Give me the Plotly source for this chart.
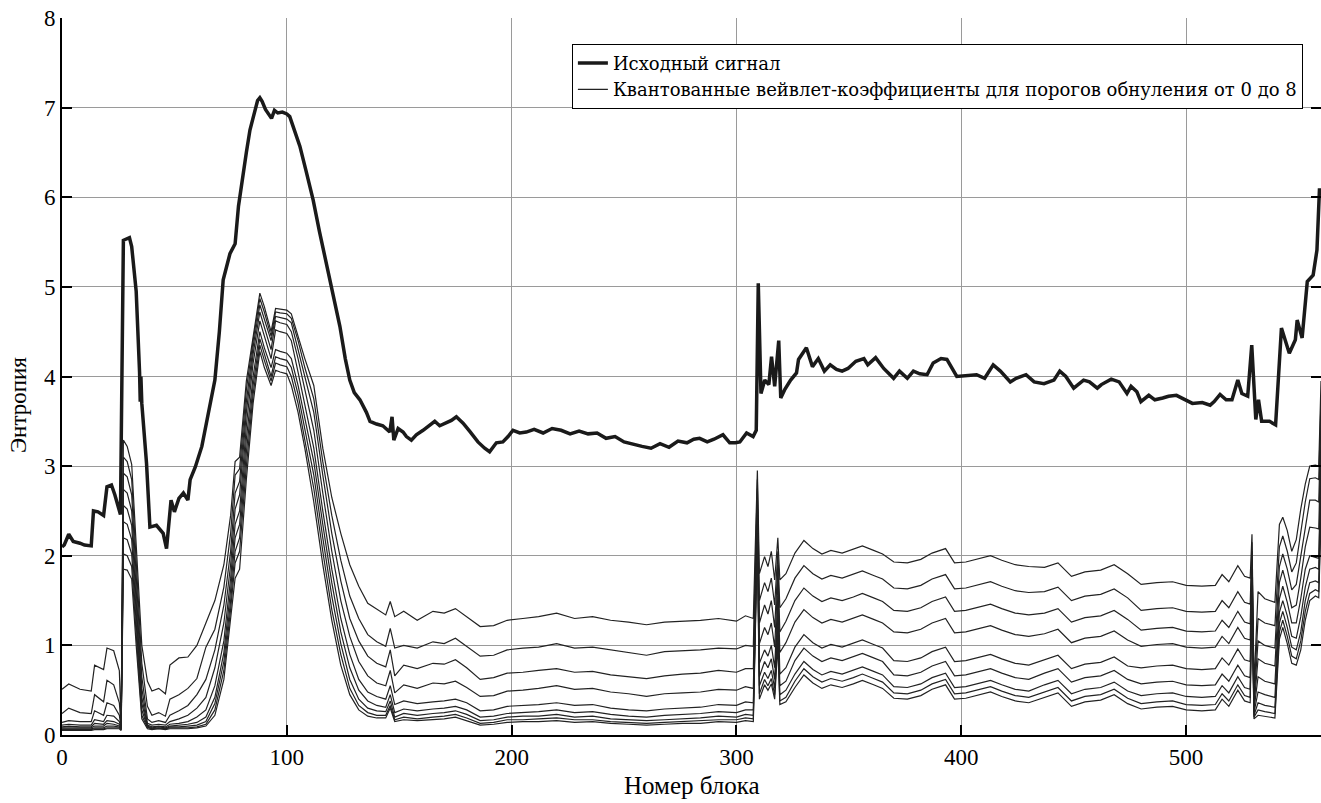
import plotly.graph_objects as go

# ---------------- data ----------------
# Thick line: entropy of the source signal
signal_x = [0, 1, 3, 5, 8, 10, 13, 14, 16, 18.5, 20, 22, 23.5, 26, 27.3, 30, 31, 33, 34.5, 34.8, 35.1, 35.5,
            37.6, 39.1, 42, 43.5, 45, 46.5, 48.5, 50, 52, 54, 56, 57, 59.3, 62.2, 65.2, 68, 70, 71.7, 74.7,
            76.1, 77, 78.5, 80, 82, 83.6, 85.5, 87, 88, 89, 90.5, 92, 93.2, 94.5, 96, 98, 100, 101.3, 103,
            105.8, 108.5, 111.7, 114.5, 117.6, 120.5, 123.6, 126, 128, 130, 132.5, 135.4, 137, 139.9, 142.7,
            145.8, 146.8, 147.6, 149.5, 151.7, 153.2, 155.4, 157.6, 160.6, 162.8, 165.8, 168, 171, 173.2,
            175.4, 178.4, 181.3, 185, 188, 190.2, 193.2, 196.1, 198.4, 200.6, 203.6, 206.5, 210, 214, 218,
            222, 226, 230, 234, 238, 242, 246, 250, 254, 258, 262, 266, 270, 274, 278, 281, 283.6, 287, 290,
            294, 297, 299.5, 301.5, 304.5, 307.4, 308.8, 309.7, 310.9, 312.6, 314.4, 315.6, 317, 318.8,
            319.7, 321.4, 324.1, 326.7, 327.6, 331.1, 333.8, 336.4, 339.1, 341.7, 344.5, 347, 349.6, 353.1,
            356.7, 358.4, 361.9, 365.5, 369.9, 372.5, 376, 378.7, 381.5, 384.8, 387.5, 391, 393.6, 398,
            403.3, 406.8, 410.4, 414.2, 417.4, 421.8, 424.4, 428.8, 432.4, 436.8, 441.2, 443.8, 446.5, 450,
            454.4, 457, 460.5, 462.3, 466.7, 470.2, 473.7, 475.5, 478.1, 479.9, 483.4, 486.1, 489.6, 492.2,
            495.7, 499.3, 502.8, 507.2, 510.7, 512.5, 515.1, 517.8, 520.4, 523, 524.8, 527.4, 529.2, 531,
            532.2, 533.6, 537.1, 539.8, 542.4, 545.9, 548.6, 549.4, 551.6, 553.9, 556.5, 558.2, 559.3, 560]
signal_y = [2.10, 2.12, 2.24, 2.16, 2.14, 2.12, 2.11, 2.50, 2.49, 2.45, 2.77, 2.79, 2.68, 2.46, 5.52, 5.55, 5.45,
            4.95, 4.05, 3.72, 4.00, 3.70, 3.03, 2.32, 2.34, 2.30, 2.25, 2.08, 2.62, 2.49, 2.64, 2.70, 2.62,
            2.85, 2.99, 3.22, 3.59, 3.96, 4.50, 5.08, 5.37, 5.45, 5.48, 5.90, 6.19, 6.50, 6.75, 6.92, 7.08,
            7.11, 7.07, 6.98, 6.92, 6.88, 6.97, 6.94, 6.95, 6.93, 6.90, 6.78, 6.57, 6.30, 5.97, 5.62, 5.26,
            4.90, 4.56, 4.20, 3.96, 3.82, 3.74, 3.60, 3.50, 3.47, 3.45, 3.38, 3.55, 3.29, 3.42, 3.38, 3.33,
            3.29, 3.35, 3.40, 3.44, 3.50, 3.45, 3.48, 3.51, 3.55, 3.48, 3.39, 3.27, 3.20, 3.16, 3.26, 3.27,
            3.33, 3.40, 3.37, 3.38, 3.41, 3.37, 3.42, 3.40, 3.36, 3.39, 3.36, 3.37, 3.31, 3.33, 3.27, 3.24,
            3.22, 3.20, 3.25, 3.21, 3.28, 3.26, 3.30, 3.31, 3.27, 3.30, 3.35, 3.26, 3.26, 3.27, 3.37, 3.33,
            3.40, 5.04, 3.81, 3.96, 3.91, 4.22, 3.89, 4.40, 3.76, 3.85, 3.96, 4.04, 4.19, 4.32, 4.11, 4.20,
            4.06, 4.13, 4.08, 4.06, 4.09, 4.17, 4.20, 4.13, 4.21, 4.09, 3.98, 4.06, 3.98, 4.06, 4.03, 4.02,
            4.15, 4.20, 4.19, 4.00, 4.01, 4.02, 3.98, 4.13, 4.06, 3.94, 3.98, 4.02, 3.94, 3.92, 3.96, 4.06,
            4.00, 3.87, 3.96, 3.94, 3.87, 3.91, 3.97, 3.94, 3.81, 3.89, 3.83, 3.72, 3.79, 3.74, 3.76, 3.78,
            3.79, 3.74, 3.70, 3.71, 3.68, 3.72, 3.80, 3.74, 3.74, 3.96, 3.81, 3.78, 4.35, 3.52, 3.74, 3.50,
            3.50, 3.46, 4.54, 4.26, 4.41, 4.63, 4.43, 5.06, 5.13, 5.41, 6.08, 6.08]

# Thin lines: quantized wavelet coefficients, zeroing thresholds 0..8
thin_x = [0, 3, 8, 13, 14.5, 18.5, 20, 23, 25.5, 26.3,
          27.3, 29, 31, 33, 35.5, 38, 40,
          43, 46, 48, 52, 56, 60,
          64, 68, 72, 75, 77, 79, 82, 85, 88,
          90, 93, 95, 97, 100,
          102, 105, 108, 112, 116, 120, 124, 128, 132, 136, 140,
          144, 146, 148, 152, 158, 165, 170, 175, 180, 186, 192, 198, 205, 212, 220, 228, 236, 244, 252,
          260, 268, 276, 284, 292, 300, 304,
          307.5, 309.3, 310.2, 312.5, 314, 315.5, 317, 318.4, 319.3, 322,
          326, 330, 334, 338, 342, 347, 352, 356, 361, 365, 370, 376, 382, 387, 393, 397, 402, 407, 413,
          418, 424, 430, 437, 443, 449, 455, 462, 468, 474, 480, 487, 494, 500, 507, 513, 516, 519, 523,
          526, 528.5,
          529.3, 530.2, 532, 535, 539.5, 541.5, 543, 545, 547, 549, 551, 553, 555, 557.5, 559, 560]

entropy_q0 = [0.51, 0.57, 0.51, 0.49, 0.78, 0.73, 0.97, 0.94, 0.72, 0.10,
              3.29, 3.22, 3.02, 2.10, 1.00, 0.60, 0.49,
              0.52, 0.46, 0.78, 0.86, 0.87, 1.00,
              1.25, 1.50, 1.90, 2.45, 3.05, 3.10, 3.95, 4.45, 4.93,
              4.78, 4.50, 4.76, 4.75, 4.74,
              4.70, 4.45, 4.20, 3.90, 3.20, 2.65, 2.25, 1.90, 1.66, 1.47, 1.40,
              1.34, 1.49, 1.32, 1.38, 1.28, 1.38, 1.36, 1.41, 1.32, 1.21, 1.22, 1.28, 1.30, 1.32, 1.36, 1.30,
              1.32, 1.28, 1.26, 1.23, 1.26, 1.27, 1.28, 1.30, 1.27, 1.33,
              1.30, 2.95, 1.80, 1.99, 1.88, 2.05, 1.73, 2.20, 1.73, 1.80,
              2.03, 2.17, 2.08, 2.02, 2.06, 2.03, 2.07, 2.11, 2.06, 2.02, 1.93, 1.92, 1.96, 2.03, 2.08, 1.92,
              1.93, 1.96, 2.00, 1.95, 1.90, 1.88, 1.87, 1.92, 1.77, 1.82, 1.84, 1.90, 1.80, 1.68, 1.70, 1.71,
              1.67, 1.66, 1.67, 1.79, 1.71, 1.89, 1.77, 1.75,
              2.24, 0.55, 1.60, 1.52, 1.48, 2.35, 2.43, 2.28, 2.05, 2.18, 2.52, 2.80, 3.00, 3.01, 3.00, 3.95]
entropy_q1 = [0.24, 0.30, 0.25, 0.24, 0.45, 0.37, 0.61, 0.56, 0.36, 0.09,
              3.10, 3.05, 2.85, 1.95, 0.80, 0.32, 0.22,
              0.25, 0.21, 0.40, 0.45, 0.52, 0.63,
              0.98, 1.18, 1.65, 2.25, 2.90, 2.97, 3.85, 4.40, 4.87,
              4.72, 4.45, 4.72, 4.71, 4.70,
              4.65, 4.40, 4.10, 3.75, 3.05, 2.45, 1.95, 1.55, 1.30, 1.12, 1.04,
              0.99, 1.19, 0.97, 1.00, 0.97, 1.04, 1.02, 1.08, 0.99, 0.88, 0.89, 0.95, 0.97, 0.98, 1.02, 0.97,
              0.98, 0.95, 0.92, 0.89, 0.93, 0.94, 0.95, 0.97, 0.96, 1.00,
              0.99, 2.85, 1.50, 1.70, 1.60, 1.75, 1.45, 2.05, 1.42, 1.52,
              1.75, 1.89, 1.80, 1.74, 1.78, 1.75, 1.79, 1.83, 1.78, 1.74, 1.64, 1.63, 1.67, 1.74, 1.79, 1.63,
              1.64, 1.67, 1.71, 1.66, 1.61, 1.59, 1.60, 1.65, 1.50, 1.55, 1.57, 1.63, 1.53, 1.39, 1.41, 1.42,
              1.38, 1.37, 1.38, 1.50, 1.42, 1.60, 1.48, 1.46,
              2.15, 0.45, 1.30, 1.25, 1.22, 2.10, 2.22, 2.05, 1.82, 1.92, 2.25, 2.60, 2.86, 2.87, 2.85, 3.75]
entropy_q2 = [0.14, 0.16, 0.15, 0.15, 0.27, 0.22, 0.36, 0.33, 0.22, 0.08,
              2.92, 2.88, 2.68, 1.80, 0.65, 0.18, 0.14,
              0.16, 0.14, 0.22, 0.27, 0.33, 0.45,
              0.62, 0.95, 1.45, 2.05, 2.70, 2.83, 3.72, 4.33, 4.80,
              4.64, 4.40, 4.67, 4.66, 4.64,
              4.60, 4.30, 4.00, 3.60, 2.90, 2.25, 1.72, 1.30, 1.05, 0.88, 0.80,
              0.76, 0.95, 0.66, 0.78, 0.74, 0.80, 0.79, 0.84, 0.75, 0.62, 0.64, 0.69, 0.70, 0.72, 0.74, 0.70,
              0.71, 0.67, 0.65, 0.63, 0.66, 0.68, 0.69, 0.72, 0.70, 0.74,
              0.74, 2.75, 1.25, 1.45, 1.35, 1.50, 1.20, 1.90, 1.15, 1.27,
              1.50, 1.64, 1.55, 1.49, 1.53, 1.50, 1.54, 1.58, 1.53, 1.49, 1.39, 1.38, 1.42, 1.49, 1.54, 1.38,
              1.39, 1.42, 1.46, 1.41, 1.36, 1.34, 1.36, 1.41, 1.26, 1.31, 1.33, 1.39, 1.29, 1.17, 1.19, 1.20,
              1.16, 1.15, 1.16, 1.28, 1.20, 1.38, 1.26, 1.24,
              2.05, 0.38, 1.05, 1.00, 0.97, 1.88, 2.02, 1.85, 1.62, 1.68, 2.00, 2.35, 2.62, 2.62, 2.60, 3.55]
entropy_q3 = [0.11, 0.12, 0.11, 0.11, 0.17, 0.15, 0.22, 0.21, 0.15, 0.08,
              2.74, 2.70, 2.50, 1.65, 0.52, 0.13, 0.11,
              0.12, 0.11, 0.15, 0.18, 0.22, 0.30,
              0.42, 0.75, 1.25, 1.90, 2.52, 2.68, 3.60, 4.25, 4.72,
              4.55, 4.30, 4.62, 4.60, 4.58,
              4.50, 4.20, 3.85, 3.40, 2.70, 2.05, 1.50, 1.10, 0.82, 0.66, 0.58,
              0.55, 0.72, 0.47, 0.56, 0.52, 0.58, 0.57, 0.60, 0.53, 0.43, 0.44, 0.49, 0.50, 0.52, 0.55, 0.51,
              0.52, 0.48, 0.46, 0.43, 0.46, 0.47, 0.48, 0.51, 0.50, 0.54,
              0.52, 2.65, 1.02, 1.20, 1.12, 1.25, 0.98, 1.75, 0.92, 1.03,
              1.26, 1.40, 1.31, 1.25, 1.29, 1.26, 1.30, 1.34, 1.29, 1.25, 1.15, 1.14, 1.18, 1.25, 1.30, 1.14,
              1.15, 1.18, 1.22, 1.17, 1.12, 1.10, 1.13, 1.18, 1.03, 1.08, 1.10, 1.16, 1.06, 0.99, 1.01, 1.02,
              0.98, 0.97, 0.98, 1.10, 1.02, 1.20, 1.08, 1.06,
              1.95, 0.32, 0.85, 0.80, 0.77, 1.70, 1.84, 1.65, 1.42, 1.45, 1.75, 2.10, 2.32, 2.31, 2.30, 3.35]
entropy_q4 = [0.09, 0.10, 0.09, 0.09, 0.13, 0.12, 0.16, 0.15, 0.12, 0.07,
              2.56, 2.52, 2.34, 1.50, 0.42, 0.11, 0.09,
              0.10, 0.09, 0.12, 0.13, 0.15, 0.20,
              0.28, 0.55, 1.05, 1.75, 2.35, 2.50, 3.45, 4.15, 4.62,
              4.45, 4.20, 4.52, 4.50, 4.48,
              4.40, 4.05, 3.70, 3.20, 2.50, 1.85, 1.30, 0.90, 0.62, 0.48, 0.43,
              0.40, 0.55, 0.34, 0.38, 0.35, 0.37, 0.38, 0.40, 0.36, 0.27, 0.28, 0.32, 0.33, 0.34, 0.36, 0.33,
              0.34, 0.30, 0.28, 0.27, 0.29, 0.30, 0.31, 0.34, 0.33, 0.37,
              0.36, 2.55, 0.80, 0.95, 0.88, 1.00, 0.75, 1.55, 0.68, 0.75,
              0.98, 1.12, 1.03, 0.97, 1.01, 0.98, 1.02, 1.06, 1.01, 0.97, 0.83, 0.82, 0.86, 0.93, 0.98, 0.82,
              0.83, 0.86, 0.90, 0.85, 0.80, 0.78, 0.84, 0.89, 0.74, 0.79, 0.81, 0.87, 0.77, 0.75, 0.77, 0.78,
              0.74, 0.73, 0.74, 0.86, 0.78, 0.96, 0.84, 0.82,
              1.85, 0.28, 0.65, 0.60, 0.57, 1.52, 1.66, 1.48, 1.25, 1.25, 1.52, 1.85, 2.00, 1.98, 1.97, 3.15]
entropy_q5 = [0.08, 0.08, 0.08, 0.08, 0.10, 0.10, 0.13, 0.12, 0.10, 0.07,
              2.38, 2.35, 2.18, 1.38, 0.35, 0.10, 0.08,
              0.09, 0.08, 0.10, 0.11, 0.12, 0.14,
              0.20, 0.42, 0.92, 1.62, 2.20, 2.35, 3.30, 4.00, 4.50,
              4.32, 4.10, 4.30, 4.28, 4.26,
              4.20, 3.90, 3.55, 3.05, 2.35, 1.70, 1.15, 0.75, 0.50, 0.38, 0.33,
              0.31, 0.45, 0.25, 0.29, 0.27, 0.29, 0.30, 0.32, 0.28, 0.20, 0.21, 0.24, 0.25, 0.26, 0.28, 0.25,
              0.26, 0.23, 0.21, 0.20, 0.22, 0.23, 0.24, 0.26, 0.25, 0.28,
              0.28, 2.45, 0.65, 0.82, 0.75, 0.85, 0.62, 1.40, 0.55, 0.60,
              0.83, 0.97, 0.88, 0.82, 0.86, 0.83, 0.87, 0.91, 0.86, 0.82, 0.67, 0.66, 0.70, 0.77, 0.82, 0.66,
              0.67, 0.70, 0.74, 0.69, 0.64, 0.62, 0.69, 0.74, 0.59, 0.64, 0.66, 0.72, 0.62, 0.57, 0.59, 0.60,
              0.56, 0.55, 0.56, 0.68, 0.60, 0.78, 0.66, 0.64,
              1.75, 0.25, 0.48, 0.45, 0.42, 1.37, 1.50, 1.33, 1.10, 1.08, 1.32, 1.65, 1.85, 1.87, 1.85, 2.95]
entropy_q6 = [0.07, 0.07, 0.07, 0.07, 0.08, 0.08, 0.10, 0.10, 0.09, 0.06,
              2.20, 2.18, 2.02, 1.25, 0.28, 0.09, 0.07,
              0.08, 0.07, 0.09, 0.09, 0.10, 0.11,
              0.15, 0.35, 0.82, 1.50, 2.05, 2.20, 3.15, 3.90, 4.42,
              4.25, 4.00, 4.22, 4.20, 4.18,
              4.10, 3.80, 3.40, 2.90, 2.20, 1.55, 1.02, 0.62, 0.40, 0.30, 0.27,
              0.26, 0.38, 0.20, 0.24, 0.22, 0.24, 0.25, 0.27, 0.23, 0.16, 0.17, 0.20, 0.21, 0.21, 0.23, 0.20,
              0.21, 0.18, 0.17, 0.16, 0.17, 0.18, 0.19, 0.21, 0.20, 0.23,
              0.22, 2.35, 0.55, 0.70, 0.63, 0.72, 0.52, 1.25, 0.45, 0.50,
              0.68, 0.82, 0.73, 0.67, 0.71, 0.68, 0.72, 0.76, 0.71, 0.67, 0.54, 0.53, 0.57, 0.64, 0.69, 0.53,
              0.54, 0.57, 0.61, 0.56, 0.51, 0.49, 0.56, 0.61, 0.46, 0.51, 0.53, 0.59, 0.49, 0.44, 0.46, 0.47,
              0.43, 0.42, 0.43, 0.55, 0.47, 0.65, 0.53, 0.51,
              1.65, 0.22, 0.36, 0.33, 0.31, 1.25, 1.38, 1.20, 0.98, 0.95, 1.15, 1.50, 1.70, 1.72, 1.70, 2.75]
entropy_q7 = [0.06, 0.06, 0.06, 0.06, 0.07, 0.07, 0.08, 0.08, 0.08, 0.06,
              2.02, 2.00, 1.88, 1.12, 0.22, 0.08, 0.07,
              0.07, 0.07, 0.08, 0.08, 0.08, 0.09,
              0.12, 0.28, 0.72, 1.40, 1.92, 2.05, 3.00, 3.80, 4.35,
              4.18, 3.95, 4.15, 4.13, 4.11,
              4.00, 3.70, 3.30, 2.75, 2.05, 1.40, 0.90, 0.52, 0.33, 0.25, 0.22,
              0.22, 0.33, 0.17, 0.20, 0.18, 0.20, 0.21, 0.23, 0.19, 0.13, 0.14, 0.17, 0.17, 0.18, 0.19, 0.17,
              0.17, 0.15, 0.14, 0.13, 0.14, 0.15, 0.16, 0.17, 0.17, 0.19,
              0.18, 2.25, 0.46, 0.62, 0.55, 0.63, 0.45, 1.10, 0.38, 0.42,
              0.60, 0.74, 0.65, 0.59, 0.63, 0.60, 0.64, 0.68, 0.63, 0.59, 0.47, 0.46, 0.50, 0.57, 0.62, 0.46,
              0.47, 0.50, 0.54, 0.49, 0.44, 0.42, 0.48, 0.53, 0.38, 0.43, 0.45, 0.51, 0.41, 0.35, 0.37, 0.38,
              0.34, 0.33, 0.34, 0.46, 0.38, 0.56, 0.44, 0.42,
              1.55, 0.20, 0.28, 0.26, 0.24, 1.15, 1.28, 1.10, 0.88, 0.85, 1.05, 1.38, 1.58, 1.62, 1.60, 2.55]
entropy_q8 = [0.05, 0.05, 0.05, 0.05, 0.06, 0.06, 0.07, 0.07, 0.07, 0.05,
              1.85, 1.84, 1.74, 1.00, 0.18, 0.07, 0.06,
              0.07, 0.06, 0.07, 0.07, 0.07, 0.08,
              0.10, 0.22, 0.62, 1.30, 1.75, 1.85, 2.85, 3.70, 4.28,
              4.10, 3.90, 4.07, 4.05, 4.03,
              3.90, 3.60, 3.20, 2.60, 1.90, 1.28, 0.78, 0.45, 0.28, 0.21, 0.19,
              0.19, 0.30, 0.15, 0.17, 0.16, 0.17, 0.18, 0.20, 0.16, 0.11, 0.12, 0.14, 0.15, 0.15, 0.16, 0.14,
              0.15, 0.13, 0.12, 0.11, 0.12, 0.13, 0.13, 0.15, 0.14, 0.16,
              0.15, 2.15, 0.40, 0.56, 0.50, 0.57, 0.40, 1.00, 0.34, 0.37,
              0.53, 0.67, 0.58, 0.52, 0.56, 0.53, 0.57, 0.61, 0.56, 0.52, 0.41, 0.40, 0.44, 0.51, 0.56, 0.40,
              0.41, 0.44, 0.48, 0.43, 0.38, 0.36, 0.42, 0.47, 0.32, 0.37, 0.39, 0.45, 0.35, 0.29, 0.31, 0.32,
              0.28, 0.27, 0.28, 0.40, 0.32, 0.50, 0.38, 0.36,
              1.45, 0.18, 0.22, 0.21, 0.19, 1.07, 1.20, 1.02, 0.80, 0.78, 0.95, 1.28, 1.50, 1.55, 1.53, 2.40]

thin_series = [entropy_q0, entropy_q1, entropy_q2, entropy_q3, entropy_q4,
               entropy_q5, entropy_q6, entropy_q7, entropy_q8]

x_ticks = [0, 100, 200, 300, 400, 500]
y_ticks = [0, 1, 2, 3, 4, 5, 6, 7, 8]

name_signal = "Исходный сигнал"
name_coeffs = "Квантованные вейвлет-коэффициенты для порогов обнуления от 0 до 8"
x_title = "Номер блока"
y_title = "Энтропия"

# ---------------- figure ----------------
FONT = "Liberation Serif, Times New Roman, serif"
LEGEND_FONT = "DejaVu Serif, Liberation Serif, serif"
fig = go.Figure()

fig.add_trace(go.Scatter(x=signal_x, y=signal_y, mode="lines", name=name_signal,
                         line=dict(color="#1a1a1a", width=3.5)))

for i, ys in enumerate(thin_series):
    fig.add_trace(go.Scatter(x=thin_x, y=ys, mode="lines", name=name_coeffs,
                             showlegend=(i == 0), legendgroup="coeffs",
                             line=dict(color="#222222", width=1.2)))

fig.update_layout(
    width=1321, height=803,
    margin=dict(l=62, r=0, t=18, b=68, autoexpand=False),
    paper_bgcolor="white", plot_bgcolor="white",
    font=dict(family=FONT, size=22, color="black"),
    showlegend=True,
    legend=dict(x=0.405, y=0.964, xanchor="left", yanchor="top",
                bgcolor="white", bordercolor="black", borderwidth=1,
                font=dict(family=LEGEND_FONT, size=18, color="black"),
                itemwidth=30, tracegroupgap=0),
    annotations=[
        dict(text=x_title, xref="paper", yref="paper", x=0.5, y=-0.071,
             xanchor="center", yanchor="middle", showarrow=False,
             font=dict(family=FONT, size=25, color="black")),
        dict(text=y_title, xref="paper", yref="paper", x=-0.035, y=0.46,
             xanchor="center", yanchor="middle", showarrow=False, textangle=-90,
             font=dict(family=FONT, size=23, color="black")),
    ],
)

fig.update_xaxes(range=[0, 560], tickvals=x_ticks, ticks="inside", ticklen=10,
                 tickcolor="black", tickwidth=1.5, showgrid=True, gridcolor="#9a9a9a",
                 gridwidth=1, zeroline=False, showline=True, linecolor="black",
                 linewidth=2, mirror=False, automargin=False,
                 tickfont=dict(family=FONT, size=23))
fig.update_yaxes(range=[0, 8], tickvals=y_ticks, ticks="inside", ticklen=10,
                 tickcolor="black", tickwidth=1.5, showgrid=True, gridcolor="#9a9a9a",
                 gridwidth=1, zeroline=False, showline=True, linecolor="black",
                 linewidth=2, mirror="ticks", automargin=False,
                 tickfont=dict(family=FONT, size=23))

fig.write_html("out.html", config={"displayModeBar": False},
               post_script="document.body.style.margin='0';document.body.style.overflow='hidden';")
